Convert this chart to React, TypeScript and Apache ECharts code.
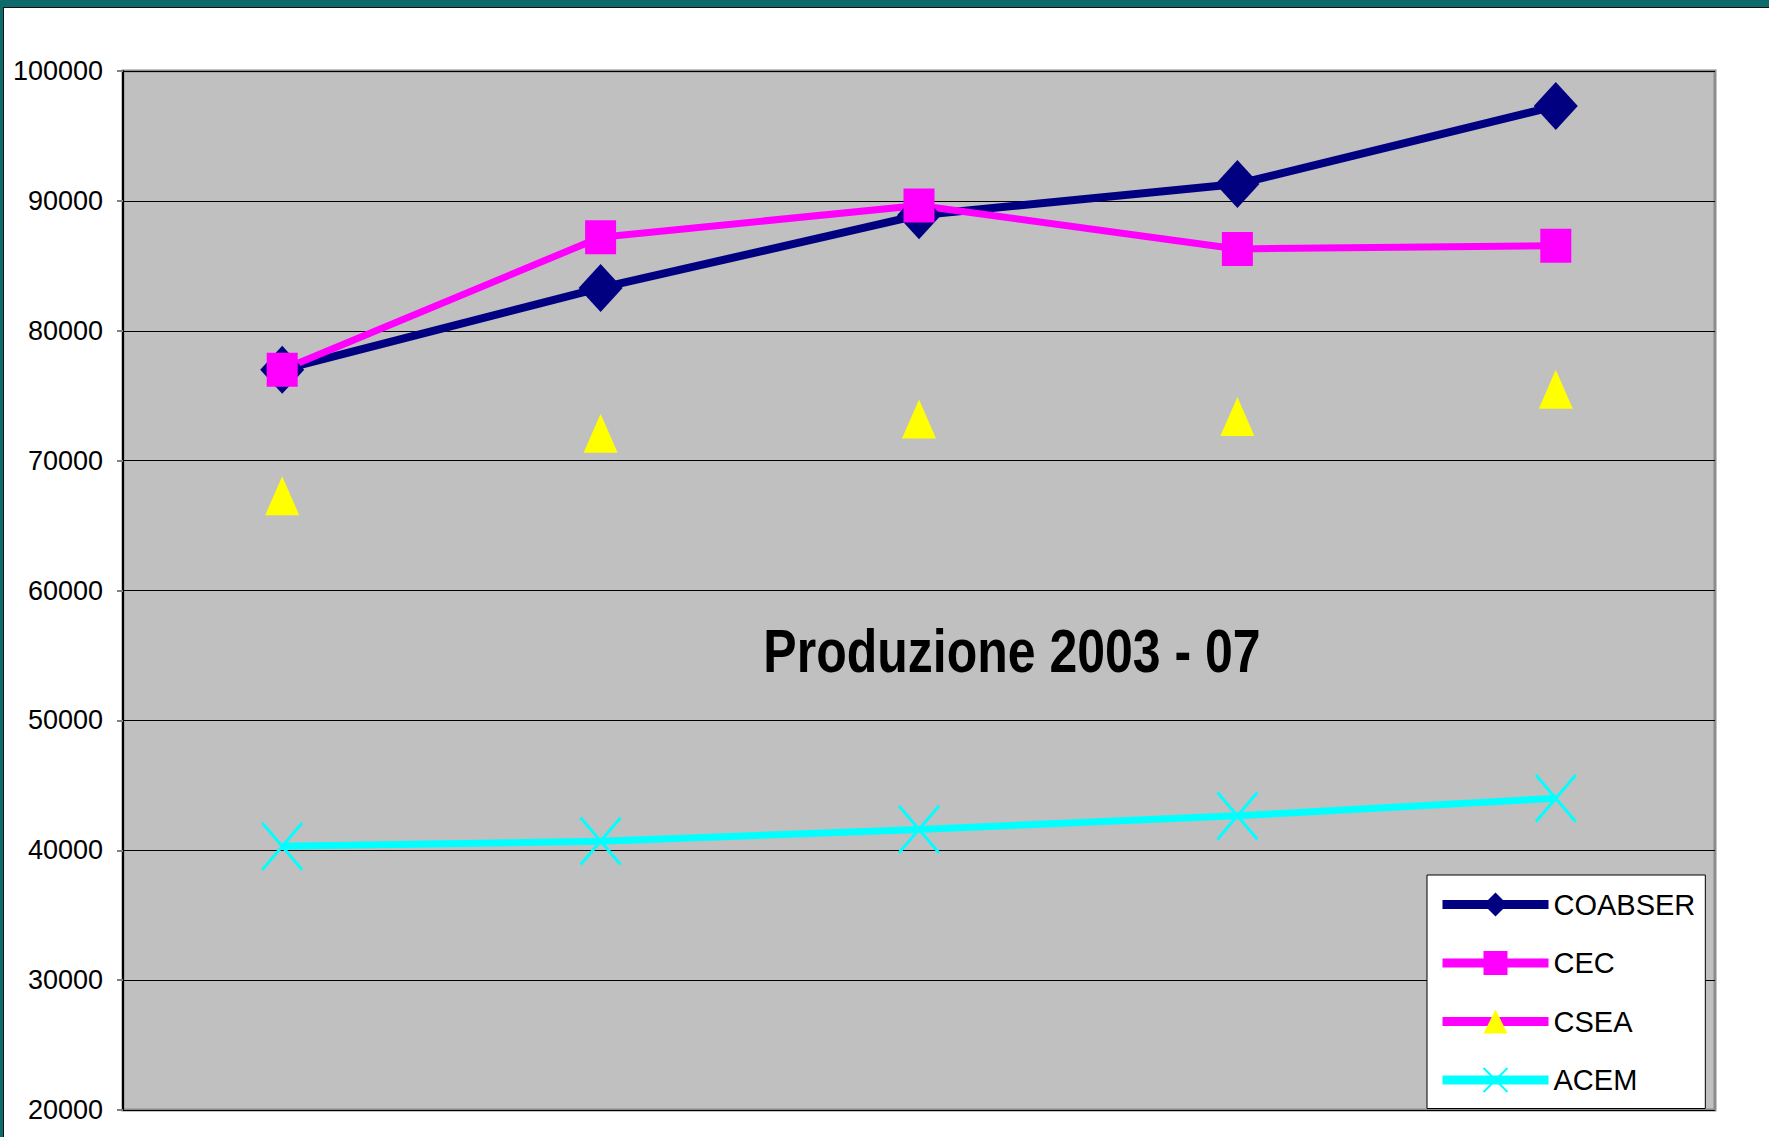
import React, { useEffect, useRef } from "react";
import * as echarts from "echarts";

const categories = ["2003", "2004", "2005", "2006", "2007"];
const coabser = [77000, 83300, 88900, 91300, 97300];
const cec = [77000, 87200, 89650, 86300, 86550];
const csea = [67300, 72100, 73200, 73400, 75500];
const acem = [40300, 40700, 41600, 42650, 44000];
const yMin = 20000;
const yMax = 100000;
const yInterval = 10000;
const titleText = "Produzione 2003 - 07";

const FONT = "'Liberation Sans', Arial, sans-serif";

export default function App() {
  const ref = useRef<HTMLDivElement>(null);
  useEffect(() => {
    document.body.style.margin = "0";
    const chart = echarts.init(ref.current!, null, { renderer: "svg" });
    chart.setOption({
      animation: false,
      backgroundColor: "#ffffff",
      grid: {
        left: 123,
        right: 54,
        top: 71,
        bottom: 27,
        show: true,
        backgroundColor: "#c0c0c0",
        borderColor: "#8c8c8c",
        borderWidth: 3,
        containLabel: false,
        outerBoundsMode: "none",
      },
      xAxis: {
        type: "category",
        data: categories,
        boundaryGap: true,
        axisLabel: { show: false },
        axisTick: { show: false },
        axisLine: { show: false },
      },
      yAxis: {
        type: "value",
        min: yMin,
        max: yMax,
        interval: yInterval,
        axisLine: { show: true, lineStyle: { color: "#000000", width: 2 } },
        axisTick: { show: true, length: 6, lineStyle: { color: "#808080", width: 2 } },
        axisLabel: {
          color: "#000000",
          fontSize: 27,
          fontFamily: FONT,
          margin: 20,
          formatter: (v: number) => String(v),
        },
        splitLine: { show: true, lineStyle: { color: "#000000", width: 1 } },
      },
      legend: {
        orient: "vertical",
        left: 1427,
        top: 875,
        backgroundColor: "#ffffff",
        borderColor: "#000000",
        borderWidth: 1,
        borderRadius: 0,
        padding: [15, 10, 14, 11],
        itemWidth: 106,
        itemHeight: 30,
        itemGap: 29.5,
        textStyle: { color: "#000000", fontSize: 29, fontFamily: FONT },
        data: [
          { name: "COABSER", lineStyle: { color: "#000080", width: 9, opacity: 1 } },
          { name: "CEC", lineStyle: { color: "#ff00ff", width: 9, opacity: 1 } },
          { name: "CSEA", lineStyle: { color: "#ff00ff", width: 9, opacity: 1 } },
          { name: "ACEM", lineStyle: { color: "#00ffff", width: 9, opacity: 1 } },
        ],
      },
      graphic: [
        { type: "rect", shape: { x: 0, y: 0, width: 1769, height: 7 }, style: { fill: "#0e6b6b" } },
        { type: "rect", shape: { x: 0, y: 7, width: 1769, height: 1 }, style: { fill: "#111111" } },
        { type: "rect", shape: { x: 0, y: 0, width: 3, height: 1137 }, style: { fill: "#0e6b6b" } },
        { type: "rect", shape: { x: 3, y: 7, width: 1, height: 1130 }, style: { fill: "#111111" } },
        {
          type: "text",
          x: 1012,
          y: 651,
          scaleY: 1.22,
          style: {
            text: titleText,
            fill: "#000000",
            fontSize: 50,
            fontWeight: "bold",
            fontFamily: FONT,
            align: "center",
            verticalAlign: "middle",
          },
        },
      ],
      series: [
        {
          name: "COABSER",
          type: "line",
          data: coabser,
          symbol: "diamond",
          symbolSize: [44, 48],
          lineStyle: { color: "#000080", width: 8 },
          itemStyle: { color: "#000080" },
        },
        {
          name: "CEC",
          type: "line",
          data: cec,
          symbol: "rect",
          symbolSize: [31, 34],
          lineStyle: { color: "#ff00ff", width: 7 },
          itemStyle: { color: "#ff00ff" },
        },
        {
          name: "CSEA",
          type: "line",
          data: csea,
          symbol: "triangle",
          symbolSize: [34, 39],
          lineStyle: { color: "#ff00ff", width: 8, opacity: 0 },
          itemStyle: { color: "#ffff00" },
        },
        {
          name: "ACEM",
          type: "line",
          data: acem,
          symbol: "path://M0,0L40,47M40,0L0,47",
          symbolSize: [40, 47],
          lineStyle: { color: "#00ffff", width: 7 },
          itemStyle: { color: "#00ffff", borderColor: "#00ffff", borderWidth: 3 },
        },
      ],
    });
    return () => chart.dispose();
  }, []);
  return <div ref={ref} style={{ width: 1769, height: 1137 }} />;
}
